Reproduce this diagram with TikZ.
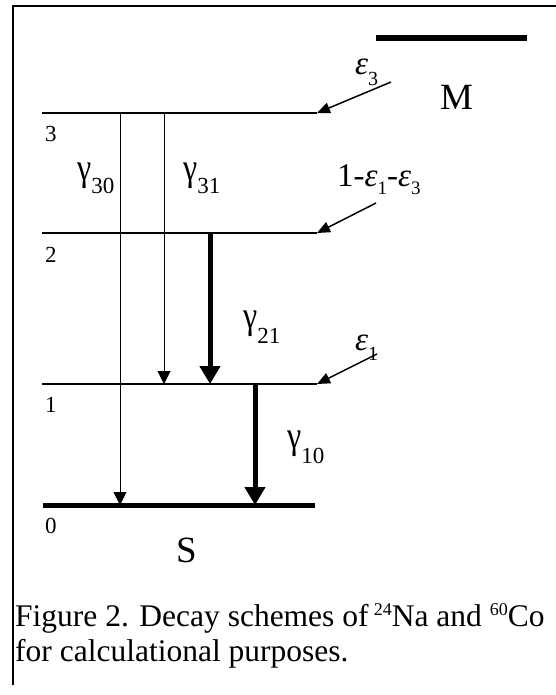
\documentclass[tikz,border=0pt]{standalone}
\usepackage{fontspec}
\setmainfont{Liberation Serif}
\usetikzlibrary{arrows.meta}
\newcommand\dsub[3]{\raisebox{-#1pt}{\fontsize{#2}{#2}\selectfont #3}}
\newcommand\ep{\textit{ε}}
\newcommand\gam{\scalebox{1}[1.2]{γ}}
\begin{document}
\begin{tikzpicture}[x=1pt,y=-1pt,
  frameline/.style={line width=2pt},
  level/.style={line width=2.5pt},
  groundlevel/.style={line width=5pt},
  thinarrow/.style={line width=1pt,-{Triangle[length=13pt,width=13pt]}},
  thickarrow/.style={line width=5pt,-{Triangle[length=18pt,width=20pt]}},
  feedarrow/.style={line width=1.5pt,-{Triangle[length=13pt,width=11pt]}},
  numlbl/.style={font=\fontsize{23}{23}\selectfont,inner sep=0pt,anchor=base west},
  glbl/.style={font=\fontsize{32}{32}\selectfont,inner sep=0pt,anchor=base west},
  elbl/.style={font=\fontsize{33}{33}\selectfont,inner sep=0pt,anchor=base west},
  biglbl/.style={font=\fontsize{37}{37}\selectfont,inner sep=0pt,anchor=base west},
  caplbl/.style={font=\fontsize{31.5}{31.5}\selectfont,inner sep=0pt,anchor=base west}]
\useasboundingbox (0,0) rectangle (556,695);
% frame
\coordinate (fb) at (13,685);
\coordinate (ftl) at (13,6);
\coordinate (ftr) at (556,6);
\draw[frameline] (fb) -- (ftl) -- (ftr);
% M level
\coordinate (Ma) at (376,38);
\coordinate (Mb) at (527,38);
\draw[line width=6pt] (Ma) -- (Mb);
% levels
\coordinate (L3a) at (42,113); \coordinate (L3b) at (317,113);
\coordinate (L2a) at (42,233); \coordinate (L2b) at (317,233);
\coordinate (L1a) at (42,384); \coordinate (L1b) at (317,384);
\coordinate (L0a) at (43,505); \coordinate (L0b) at (315,505);
\draw[level] (L3a) -- (L3b);
\draw[level] (L2a) -- (L2b);
\draw[level] (L1a) -- (L1b);
\draw[groundlevel] (L0a) -- (L0b);
% level numbers
\node[numlbl] (n3) at (45,142) {3};
\node[numlbl] (n2) at (45,262) {2};
\node[numlbl] (n1) at (45,412) {1};
\node[numlbl] (n0) at (45,533) {0};
% gamma transitions
\coordinate (g30a) at (120,113); \coordinate (g30b) at (120,505);
\coordinate (g31a) at (164,113); \coordinate (g31b) at (164,384);
\coordinate (g21a) at (210,233); \coordinate (g21b) at (210,384);
\coordinate (g10a) at (255,384); \coordinate (g10b) at (255,505);
\draw[thinarrow] (g30a) -- (g30b);
\draw[thinarrow] (g31a) -- (g31b);
\draw[thickarrow] (g21a) -- (g21b);
\draw[thickarrow] (g10a) -- (g10b);
\node[glbl] (lg30) at (77,180) {\gam\dsub{13}{23}{30}};
\node[glbl] (lg31) at (183,180) {\gam\dsub{13}{23}{31}};
\node[glbl] (lg21) at (243,328) {\gam\dsub{15}{23}{21}};
\node[glbl] (lg10) at (287,448) {\gam\dsub{15}{23}{10}};
% feeding arrows
\coordinate (f3) at (391,82);
\coordinate (f2) at (376,203);
\coordinate (f1) at (377,354);
\draw[feedarrow] (f3) -- (L3b);
\draw[feedarrow] (f2) -- (L2b);
\draw[feedarrow] (f1) -- (L1b);
\node[elbl] (le3) at (355,75) {\ep\dsub{11}{20}{3}};
\node[elbl] (le21) at (337,186) {1-\ep\dsub{8}{19}{1}-\ep\dsub{8}{19}{3}};
\node[elbl] (le1) at (355,350) {\ep\dsub{10}{20}{1}};
% M and S
\node[biglbl] (M) at (440,110) {M};
\node[biglbl] (S) at (176,562) {S};
% caption
\node[caplbl] (cap1) at (15,626) {Figure 2. Decay schemes of\,\raisebox{11pt}{\fontsize{18}{18}\selectfont 24}Na and \raisebox{11pt}{\fontsize{18}{18}\selectfont 60}Co};
\node[caplbl] (cap2) at (15,661) {for calculational purposes.};
\end{tikzpicture}
\end{document}
